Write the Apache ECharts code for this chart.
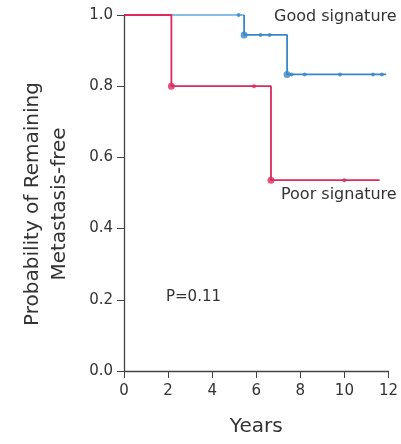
<!DOCTYPE html>
<html><head><meta charset="utf-8">
<script src="https://cdn.jsdelivr.net/npm/echarts@6/dist/echarts.min.js"></script>
<style>html,body{margin:0;padding:0;background:#fff}#c{width:401px;height:444px}</style>
</head><body><div id="c"></div>
<script>
// Good signature Kaplan-Meier step points
const goodEarlyTimes = [0, 5.45];
const goodEarlySurv = [1.0, 1.0];
const goodTimes = [5.45, 7.4, 11.9];
const goodSurv = [0.944, 0.833, 0.833];
const goodEventTimes = [5.45, 7.4];
const goodEventSurv = [0.944, 0.833];
const goodCensorTimes = [5.2, 6.2, 6.6, 7.6, 8.2, 9.8, 11.3, 11.7];
const goodCensorSurv = [1.0, 0.944, 0.944, 0.833, 0.833, 0.833, 0.833, 0.833];
// Poor signature
const poorTimes = [0, 2.15, 6.67, 11.6];
const poorSurv = [1.0, 0.8, 0.536, 0.536];
const poorEventTimes = [2.15, 6.67];
const poorEventSurv = [0.8, 0.536];
const poorCensorTimes = [5.9, 10.0];
const poorCensorSurv = [0.8, 0.536];
const xTicks = [0, 2, 4, 6, 8, 10, 12];
const yTicks = [0.0, 0.2, 0.4, 0.6, 0.8, 1.0];

const zip = (a, b) => a.map((v, i) => [v, b[i]]);
const lightBlue = '#86bfe3', darkBlue = '#3b87c6', red = '#dc2a5e';
const chart = echarts.init(document.getElementById('c'));
const font = '"DejaVu Sans", sans-serif';
chart.setOption({
  animation: false,
  grid: {left: 124, right: 8, top: 15, bottom: 73},
  xAxis: {
    type: 'value', min: 0, max: 12, interval: 2,
    axisLine: {lineStyle: {color: '#444', width: 1.3}},
    axisTick: {show: true, length: 7, lineStyle: {color: '#444'}},
    splitLine: {show: false},
    axisLabel: {color: '#333', fontSize: 15, fontFamily: font, margin: 13,
      formatter: v => xTicks.includes(v) ? String(v) : ''},
    name: 'Years', nameLocation: 'middle', nameGap: 46,
    nameTextStyle: {color: '#333', fontSize: 20, fontFamily: font}
  },
  yAxis: {
    type: 'value', min: 0, max: 1, interval: 0.2,
    axisLine: {show: true, lineStyle: {color: '#444', width: 1.3}},
    axisTick: {show: true, length: 7, lineStyle: {color: '#444'}},
    splitLine: {show: false},
    axisLabel: {color: '#333', fontSize: 15, fontFamily: font, margin: 11,
      formatter: v => yTicks.find(t => Math.abs(t - v) < 1e-9) !== undefined ? v.toFixed(1) : ''}
  },
  series: [
    {type: 'line', step: 'end', data: zip(goodEarlyTimes, goodEarlySurv), symbol: 'none',
      lineStyle: {color: lightBlue, width: 1.8}, z: 2},
    {type: 'line', step: 'end', data: zip(goodTimes, goodSurv), symbol: 'none',
      lineStyle: {color: darkBlue, width: 1.8}, z: 2},
    {type: 'line', step: 'end', data: [[goodEarlyTimes[1], goodEarlySurv[1]], [goodTimes[0], goodSurv[0]]], symbol: 'none',
      lineStyle: {color: darkBlue, width: 1.8}, z: 2},
    {type: 'scatter', data: zip(goodEventTimes, goodEventSurv), symbol: 'circle', symbolSize: 7,
      itemStyle: {color: darkBlue}, z: 4},
    {type: 'scatter', data: zip(goodCensorTimes, goodCensorSurv), symbol: 'circle', symbolSize: 4,
      itemStyle: {color: darkBlue, opacity: 0.8}, z: 4},
    {type: 'line', step: 'end', data: zip(poorTimes, poorSurv), symbol: 'none',
      lineStyle: {color: red, width: 1.8}, z: 3},
    {type: 'scatter', data: zip(poorEventTimes, poorEventSurv), symbol: 'circle', symbolSize: 7,
      itemStyle: {color: red}, z: 4},
    {type: 'scatter', data: zip(poorCensorTimes, poorCensorSurv), symbol: 'circle', symbolSize: 4,
      itemStyle: {color: red, opacity: 0.8}, z: 4}
  ],
  graphic: [
    {type: 'text', x: 46, y: 204, rotation: Math.PI / 2,
      style: {text: 'Probability of Remaining\nMetastasis-free', fill: '#333', font: '20px ' + font,
        align: 'center', verticalAlign: 'middle', lineHeight: 27}},
    {type: 'text', left: 274, top: 9, style: {text: 'Good signature', fill: '#333', font: '16px ' + font}},
    {type: 'text', left: 281, top: 187, style: {text: 'Poor signature', fill: '#333', font: '16px ' + font}},
    {type: 'text', left: 166, top: 290, style: {text: 'P=0.11', fill: '#333', font: '15px ' + font}}
  ]
});
</script></body></html>
